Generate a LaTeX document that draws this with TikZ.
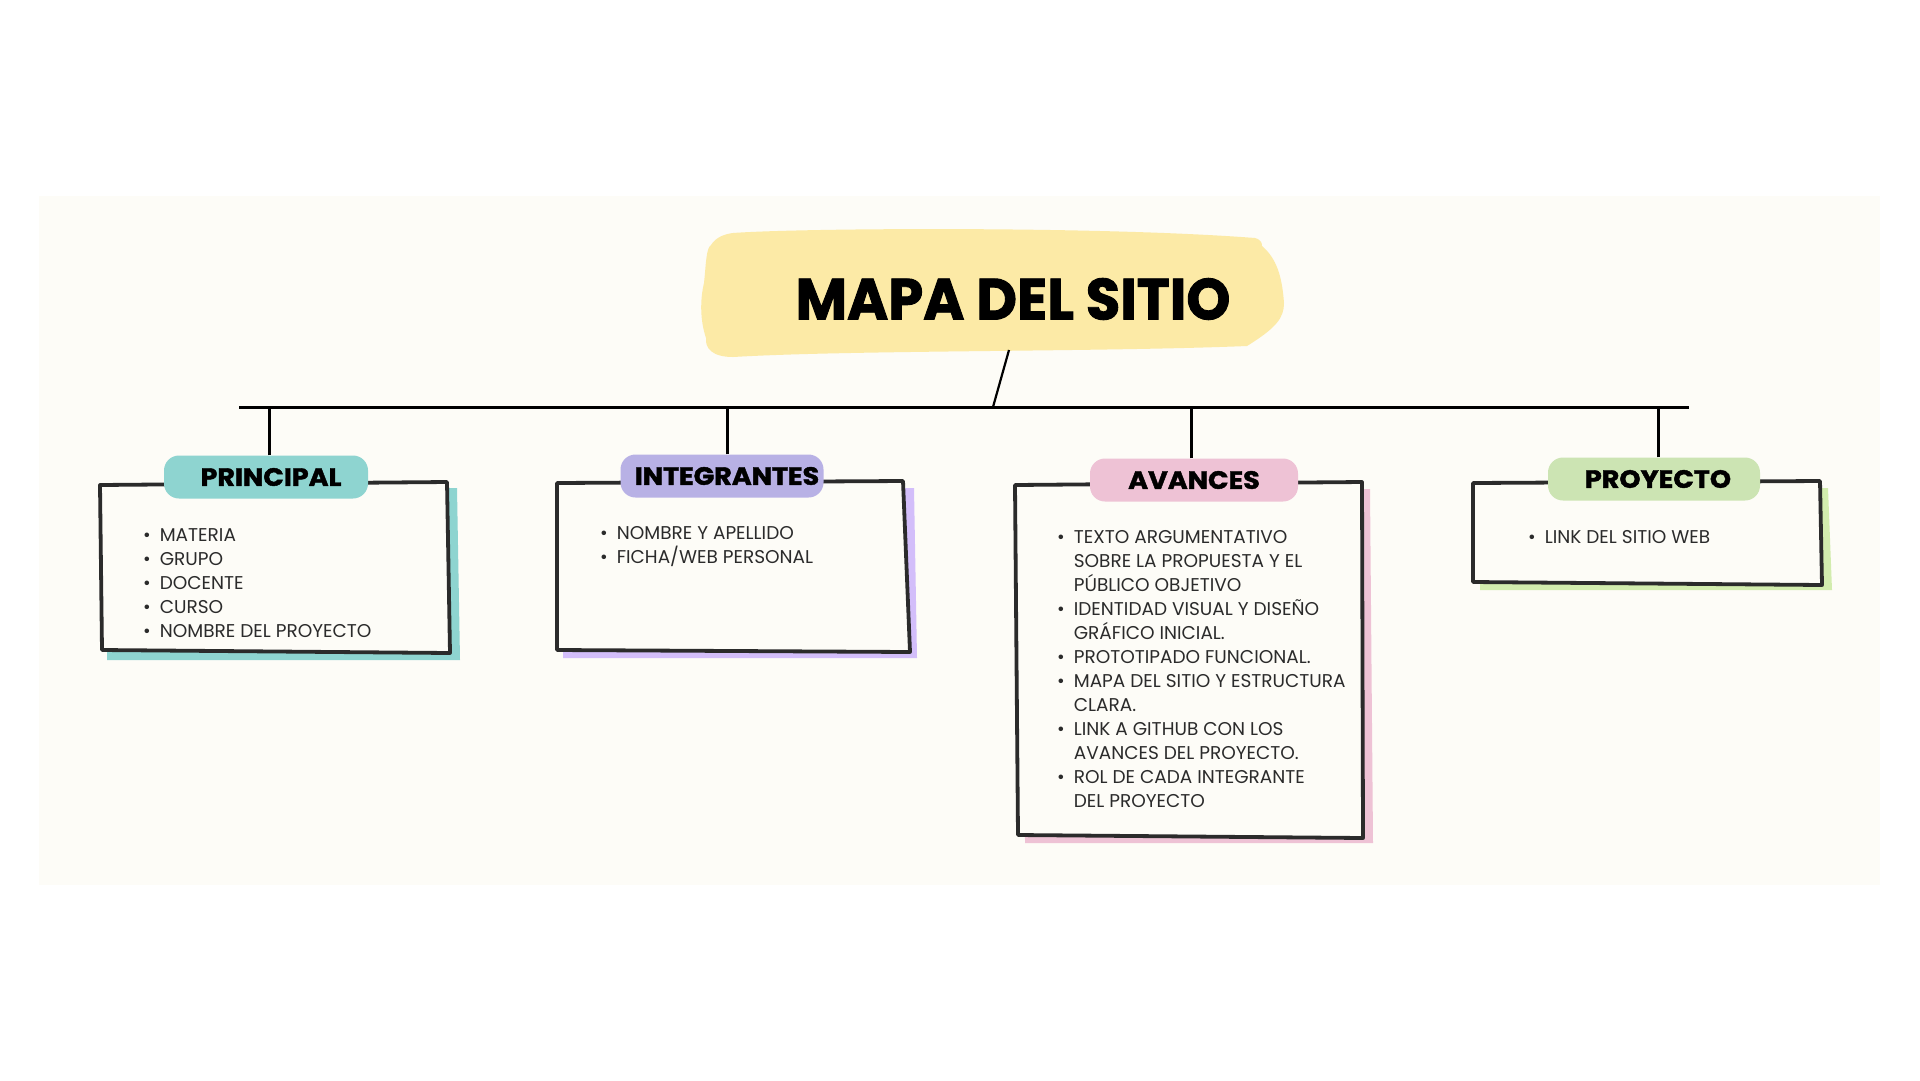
\documentclass[tikz,border=0pt]{standalone}
\usepackage{fontspec}
\setmainfont{Poppins}
\newfontfamily\heavy{Poppins}[BoldFeatures={FakeBold=1.6}]
\begin{document}
\definecolor{paper}{HTML}{FDFCF7}
\definecolor{ink}{HTML}{2B2B2B}
\definecolor{sun}{HTML}{FCEAA6}
\definecolor{tealc}{HTML}{8ED4D0}
\definecolor{lilac}{HTML}{B8B1E5}
\definecolor{lilacsh}{HTML}{D3BEFA}
\definecolor{rose}{HTML}{EEC2D5}
\definecolor{leaf}{HTML}{CCE4B3}
\definecolor{leafsh}{HTML}{D2ECAE}
\begin{tikzpicture}[x=1pt,y=-1pt,
  frame/.style={line width=3.8pt, draw=ink, fill=paper, line join=round},
  tag/.style={rounded corners=15pt, inner sep=0pt, minimum height=43pt,
    font=\fontsize{25}{25}\heavy\bfseries, text=black},
  items/.style={anchor=north west, inner sep=0pt, text=ink,
    font=\fontsize{18.5}{24}\selectfont},
  link/.style={line width=3pt, draw=black}]
\useasboundingbox (0,0) rectangle (1920,1080);
\fill[white] (0,0) rectangle (1920,1080);
\fill[paper] (39,196) rectangle (1880,885);

% title blob
\fill[sun] (733,233) .. controls (800,228) and (1100,226) .. (1255,238)
  .. controls (1262,240) and (1262,244) .. (1262,246)
  .. controls (1276,258) and (1282,275) .. (1284,303)
  .. controls (1284,318) and (1276,328) .. (1247,346)
  .. controls (1100,352) and (850,350) .. (733,357)
  .. controls (712,357) and (705,348) .. (706,338)
  .. controls (700,320) and (700,300) .. (704,283)
  .. controls (706,265) and (706,248) .. (711,245)
  .. controls (716,237) and (725,234) .. (733,233) -- cycle;
\node[font=\fontsize{58}{58}\heavy\bfseries, text=black, inner sep=0pt]
  (title) at (1013,299) {\scalebox{0.965}[1]{MAPA DEL SITIO}};

% bus
\coordinate (tfoot) at (1009,350);
\coordinate (bj) at (993,407);
\coordinate (busL) at (239,407);
\coordinate (busR) at (1689,407);
\draw[link] (busL) -- (busR);
\draw[line width=2.2pt] (tfoot) -- (bj);

% PRINCIPAL
\fill[tealc] (109,492) -- (457,488) -- (460,660) -- (107,660) -- cycle;
\draw[frame] (100,485) -- (447,482) -- (450,653) -- (102,650) -- cycle;
\node[tag, fill=tealc, minimum width=204pt] (tagP) at (266,477) {\hspace*{10pt}\scalebox{1.08}[1]{PRINCIPAL}};
\node[items] (listP) at (143,524) {\begin{tabular}{@{}l@{\hspace{9pt}}l@{}}
\textbullet & MATERIA\\
\textbullet & GRUPO\\
\textbullet & DOCENTE\\
\textbullet & CURSO\\
\textbullet & NOMBRE DEL PROYECTO
\end{tabular}};

% INTEGRANTES
\fill[lilacsh] (565,490) -- (914,488) -- (917,658) -- (563,658) -- cycle;
\draw[frame] (557,483) -- (903,481) -- (910,652) -- (557,650) -- cycle;
\node[tag, fill=lilac, minimum width=203pt] (tagI) at (722,476) {\hspace*{10pt}\scalebox{1.08}[1]{INTEGRANTES}};
\node[items] (listI) at (600,522) {\begin{tabular}{@{}l@{\hspace{9pt}}l@{}}
\textbullet & NOMBRE Y APELLIDO\\
\textbullet & FICHA/WEB PERSONAL
\end{tabular}};

% AVANCES
\fill[rose] (1024,492) -- (1370,489) -- (1373,843) -- (1025,843) -- cycle;
\draw[frame] (1015,485) -- (1362,482) -- (1363,838) -- (1018,835) -- cycle;
\node[tag, fill=rose, minimum width=208pt] (tagA) at (1194,480) {\scalebox{1.08}[1]{AVANCES}};
\node[items] (listA) at (1057,526) {\begin{tabular}{@{}l@{\hspace{9pt}}l@{}}
\textbullet & TEXTO ARGUMENTATIVO\\
 & SOBRE LA PROPUESTA Y EL\\
 & PÚBLICO OBJETIVO\\
\textbullet & IDENTIDAD VISUAL Y DISEÑO\\
 & GRÁFICO INICIAL.\\
\textbullet & PROTOTIPADO FUNCIONAL.\\
\textbullet & MAPA DEL SITIO Y ESTRUCTURA\\
 & CLARA.\\
\textbullet & LINK A GITHUB CON LOS\\
 & AVANCES DEL PROYECTO.\\
\textbullet & ROL DE CADA INTEGRANTE\\
 & DEL PROYECTO
\end{tabular}};

% PROYECTO
\fill[leafsh] (1481,490) -- (1828,488) -- (1832,590) -- (1480,590) -- cycle;
\draw[frame] (1473,483) -- (1820,481) -- (1822,585) -- (1473,582) -- cycle;
\node[tag, fill=leaf, minimum width=212pt] (tagR) at (1654,479) {\hspace*{8pt}\scalebox{1.08}[1]{PROYECTO}};
\node[items] (listR) at (1528,526) {\begin{tabular}{@{}l@{\hspace{9pt}}l@{}}
\textbullet & LINK DEL SITIO WEB
\end{tabular}};

% drops from the bus to each tag
\draw[link] (tagP.north -| 269,0) -- (269,0 |- busL);
\draw[link] (tagI.north -| 727,0) -- (727,0 |- busL);
\draw[link] (tagA.north -| 1191,0) -- (1191,0 |- busL);
\draw[link] (tagR.north -| 1658,0) -- (1658,0 |- busL);
\end{tikzpicture}
\end{document}
